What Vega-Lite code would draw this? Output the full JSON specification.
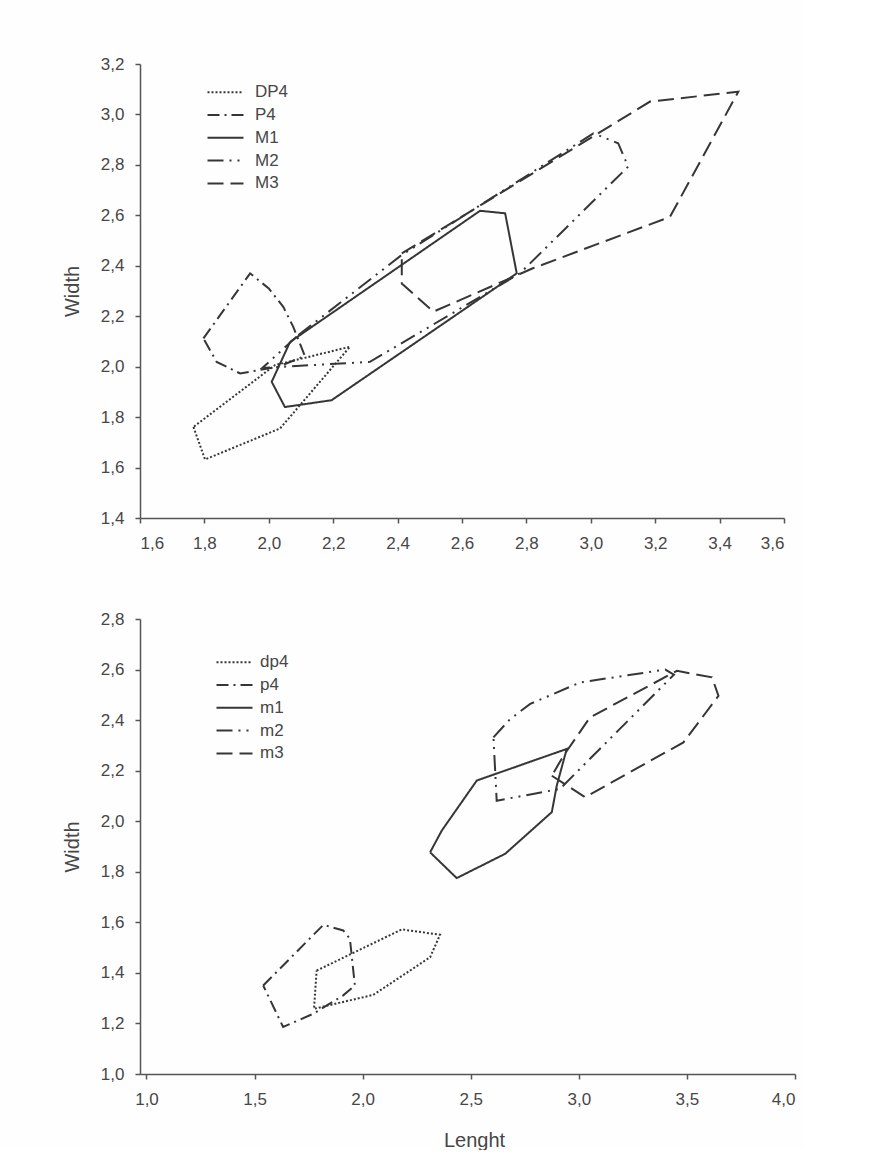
{
  "$schema": "https://vega.github.io/schema/vega-lite/v6.json",
  "background": "#fefefe",
  "padding": {"left": 62, "top": 55, "right": 10, "bottom": 0},
  "config": {
    "view": {"stroke": null},
    "font": "Liberation Sans",
    "axis": {
      "grid": false,
      "domainColor": "#555555",
      "domainWidth": 1.5,
      "tickColor": "#555555",
      "tickWidth": 1.5,
      "tickSize": 5,
      "labelFont": "Liberation Sans",
      "labelFontSize": 17,
      "labelColor": "#474747",
      "titleFont": "Liberation Sans",
      "titleFontSize": 20,
      "titleFontWeight": "normal",
      "titleColor": "#474747"
    },
    "axisY": {"labelPadding": 11, "titlePadding": 18},
    "axisX": {"labelPadding": 12, "titlePadding": 23},
    "legend": {
      "title": null,
      "orient": "none",
      "symbolType": "M-3,0H3",
      "symbolSize": 144,
      "symbolStrokeWidth": 2,
      "symbolStrokeColor": "#363636",
      "labelFont": "Liberation Sans",
      "labelFontSize": 17,
      "labelColor": "#474747",
      "rowPadding": 4.8,
      "padding": 0
    },
    "line": {"strokeWidth": 2, "color": "#363636", "strokeCap": "butt"}
  },
  "datasets": {
    "upper": [
      {"tooth": "DP4", "i": 0, "x": 1.766, "y": 1.761},
      {"tooth": "DP4", "i": 1, "x": 1.802, "y": 1.632},
      {"tooth": "DP4", "i": 2, "x": 2.035, "y": 1.755},
      {"tooth": "DP4", "i": 3, "x": 2.252, "y": 2.079},
      {"tooth": "DP4", "i": 4, "x": 2.019, "y": 2.006},
      {"tooth": "DP4", "i": 5, "x": 1.766, "y": 1.761},

      {"tooth": "P4", "i": 0, "x": 1.797, "y": 2.112},
      {"tooth": "P4", "i": 1, "x": 1.942, "y": 2.370},
      {"tooth": "P4", "i": 2, "x": 2.0, "y": 2.31},
      {"tooth": "P4", "i": 3, "x": 2.045, "y": 2.237},
      {"tooth": "P4", "i": 4, "x": 2.076, "y": 2.158},
      {"tooth": "P4", "i": 5, "x": 2.112, "y": 2.042},
      {"tooth": "P4", "i": 6, "x": 2.03, "y": 2.0},
      {"tooth": "P4", "i": 7, "x": 1.911, "y": 1.973},
      {"tooth": "P4", "i": 8, "x": 1.838, "y": 2.019},
      {"tooth": "P4", "i": 9, "x": 1.797, "y": 2.112},

      {"tooth": "M1", "i": 0, "x": 2.066, "y": 2.098},
      {"tooth": "M1", "i": 1, "x": 2.656, "y": 2.618},
      {"tooth": "M1", "i": 2, "x": 2.734, "y": 2.608},
      {"tooth": "M1", "i": 3, "x": 2.770, "y": 2.370},
      {"tooth": "M1", "i": 4, "x": 2.195, "y": 1.867},
      {"tooth": "M1", "i": 5, "x": 2.050, "y": 1.840},
      {"tooth": "M1", "i": 6, "x": 2.009, "y": 1.940},
      {"tooth": "M1", "i": 7, "x": 2.066, "y": 2.098},

      {"tooth": "M2", "i": 0, "x": 2.092, "y": 2.125},
      {"tooth": "M2", "i": 1, "x": 2.41, "y": 2.44},
      {"tooth": "M2", "i": 2, "x": 3.008, "y": 2.925},
      {"tooth": "M2", "i": 3, "x": 3.085, "y": 2.886},
      {"tooth": "M2", "i": 4, "x": 3.116, "y": 2.793},
      {"tooth": "M2", "i": 5, "x": 2.780, "y": 2.370},
      {"tooth": "M2", "i": 6, "x": 2.314, "y": 2.019},
      {"tooth": "M2", "i": 7, "x": 1.98, "y": 1.995},
      {"tooth": "M2", "i": 8, "x": 2.092, "y": 2.125},

      {"tooth": "M3", "i": 0, "x": 2.413, "y": 2.449},
      {"tooth": "M3", "i": 1, "x": 3.184, "y": 3.051},
      {"tooth": "M3", "i": 2, "x": 3.458, "y": 3.090},
      {"tooth": "M3", "i": 3, "x": 3.246, "y": 2.594},
      {"tooth": "M3", "i": 4, "x": 2.82, "y": 2.39},
      {"tooth": "M3", "i": 5, "x": 2.511, "y": 2.218},
      {"tooth": "M3", "i": 6, "x": 2.413, "y": 2.330},
      {"tooth": "M3", "i": 7, "x": 2.413, "y": 2.449}
    ],
    "lower": [
      {"tooth": "dp4", "i": 0, "x": 1.787, "y": 1.409},
      {"tooth": "dp4", "i": 1, "x": 2.181, "y": 1.572},
      {"tooth": "dp4", "i": 2, "x": 2.358, "y": 1.551},
      {"tooth": "dp4", "i": 3, "x": 2.312, "y": 1.462},
      {"tooth": "dp4", "i": 4, "x": 2.173, "y": 1.383},
      {"tooth": "dp4", "i": 5, "x": 2.049, "y": 1.313},
      {"tooth": "dp4", "i": 6, "x": 1.775, "y": 1.258},
      {"tooth": "dp4", "i": 7, "x": 1.787, "y": 1.409},

      {"tooth": "p4", "i": 0, "x": 1.540, "y": 1.350},
      {"tooth": "p4", "i": 1, "x": 1.818, "y": 1.590},
      {"tooth": "p4", "i": 2, "x": 1.910, "y": 1.568},
      {"tooth": "p4", "i": 3, "x": 1.941, "y": 1.535},
      {"tooth": "p4", "i": 4, "x": 1.964, "y": 1.350},
      {"tooth": "p4", "i": 5, "x": 1.910, "y": 1.311},
      {"tooth": "p4", "i": 6, "x": 1.771, "y": 1.238},
      {"tooth": "p4", "i": 7, "x": 1.632, "y": 1.186},
      {"tooth": "p4", "i": 8, "x": 1.540, "y": 1.350},

      {"tooth": "m1", "i": 0, "x": 2.312, "y": 1.877},
      {"tooth": "m1", "i": 1, "x": 2.366, "y": 1.963},
      {"tooth": "m1", "i": 2, "x": 2.528, "y": 2.161},
      {"tooth": "m1", "i": 3, "x": 2.944, "y": 2.286},
      {"tooth": "m1", "i": 4, "x": 2.898, "y": 2.141},
      {"tooth": "m1", "i": 5, "x": 2.875, "y": 2.036},
      {"tooth": "m1", "i": 6, "x": 2.659, "y": 1.871},
      {"tooth": "m1", "i": 7, "x": 2.435, "y": 1.775},
      {"tooth": "m1", "i": 8, "x": 2.312, "y": 1.877},

      {"tooth": "m2", "i": 0, "x": 2.605, "y": 2.332},
      {"tooth": "m2", "i": 1, "x": 2.682, "y": 2.404},
      {"tooth": "m2", "i": 2, "x": 2.775, "y": 2.464},
      {"tooth": "m2", "i": 3, "x": 3.006, "y": 2.549},
      {"tooth": "m2", "i": 4, "x": 3.40, "y": 2.60},
      {"tooth": "m2", "i": 5, "x": 3.44, "y": 2.58},
      {"tooth": "m2", "i": 6, "x": 2.913, "y": 2.128},
      {"tooth": "m2", "i": 7, "x": 2.620, "y": 2.081},
      {"tooth": "m2", "i": 8, "x": 2.605, "y": 2.332},

      {"tooth": "m3", "i": 0, "x": 2.875, "y": 2.180},
      {"tooth": "m3", "i": 1, "x": 3.029, "y": 2.095},
      {"tooth": "m3", "i": 2, "x": 3.484, "y": 2.312},
      {"tooth": "m3", "i": 3, "x": 3.646, "y": 2.496},
      {"tooth": "m3", "i": 4, "x": 3.616, "y": 2.569},
      {"tooth": "m3", "i": 5, "x": 3.454, "y": 2.595},
      {"tooth": "m3", "i": 6, "x": 3.052, "y": 2.411},
      {"tooth": "m3", "i": 7, "x": 2.929, "y": 2.259},
      {"tooth": "m3", "i": 8, "x": 2.875, "y": 2.180}
    ]
  },
  "spacing": 59,
  "resolve": {"scale": {"strokeDash": "independent"}, "legend": {"strokeDash": "independent"}},
  "vconcat": [
    {
      "width": 644,
      "height": 454,
      "data": {"name": "upper"},
      "mark": {"type": "line"},
      "encoding": {
        "x": {
          "field": "x", "type": "quantitative",
          "scale": {"domain": [1.6, 3.6], "nice": false, "zero": false},
          "axis": {"title": null, "values": [1.6, 1.8, 2.0, 2.2, 2.4, 2.6, 2.8, 3.0, 3.2, 3.4, 3.6],
                   "labelExpr": "replace(format(datum.value, '.1f'), '.', ',')"}
        },
        "y": {
          "field": "y", "type": "quantitative",
          "scale": {"domain": [1.4, 3.2], "nice": false, "zero": false},
          "axis": {"title": "Width", "values": [1.4, 1.6, 1.8, 2.0, 2.2, 2.4, 2.6, 2.8, 3.0, 3.2],
                   "labelExpr": "replace(format(datum.value, '.1f'), '.', ',')"}
        },
        "strokeDash": {
          "field": "tooth", "type": "nominal",
          "scale": {
            "domain": ["DP4", "P4", "M1", "M2", "M3"],
            "range": [[2, 2], [12, 5, 2, 5], [1, 0], [16, 6, 2, 6, 2, 6], [16, 7]]
          },
          "legend": {"legendX": 77, "legendY": 19.7, "labelOffset": 21}
        },
        "order": {"field": "i", "type": "quantitative"}
      }
    },
    {
      "width": 655,
      "height": 455,
      "data": {"name": "lower"},
      "mark": {"type": "line"},
      "encoding": {
        "x": {
          "field": "x", "type": "quantitative",
          "scale": {"domain": [0.97, 4.0], "nice": false, "zero": false},
          "axis": {"title": "Lenght", "titleX": 334, "values": [1.0, 1.5, 2.0, 2.5, 3.0, 3.5, 4.0],
                   "labelExpr": "replace(format(datum.value, '.1f'), '.', ',')"}
        },
        "y": {
          "field": "y", "type": "quantitative",
          "scale": {"domain": [1.0, 2.8], "nice": false, "zero": false},
          "axis": {"title": "Width", "values": [1.0, 1.2, 1.4, 1.6, 1.8, 2.0, 2.2, 2.4, 2.6, 2.8],
                   "labelExpr": "replace(format(datum.value, '.1f'), '.', ',')"}
        },
        "strokeDash": {
          "field": "tooth", "type": "nominal",
          "scale": {
            "domain": ["dp4", "p4", "m1", "m2", "m3"],
            "range": [[2, 2], [12, 5, 2, 5], [1, 0], [16, 6, 2, 6, 2, 6], [16, 7]]
          },
          "legend": {"legendX": 86, "legendY": 34.7, "labelOffset": 17}
        },
        "order": {"field": "i", "type": "quantitative"}
      }
    }
  ]
}
